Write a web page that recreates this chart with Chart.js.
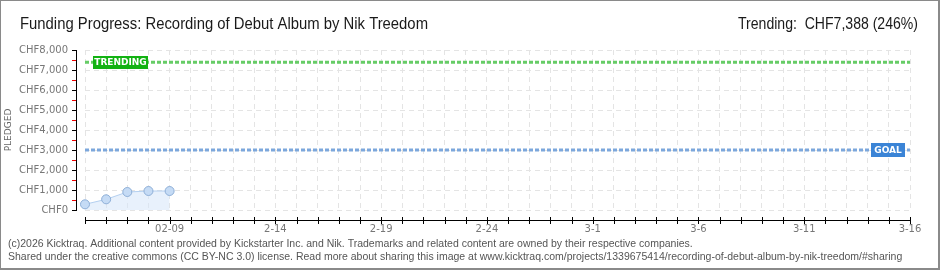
<!DOCTYPE html>
<html>
<head>
<meta charset="utf-8">
<script src="https://cdn.jsdelivr.net/npm/chart.js@4.4.1/dist/chart.umd.min.js"></script>
<style>
  html, body { margin: 0; padding: 0; background: #fff; }
  #wrap { width: 940px; height: 270px; position: relative; }
</style>
</head>
<body>
<div id="wrap"><canvas id="fundingChart" width="940" height="270"></canvas></div>
<script>
// days on the x axis (2-05 .. 3-16)
const days = [
  "2-05", "2-06", "2-07", "2-08", "02-09", "2-10", "2-11", "2-12", "2-13", "2-14",
  "2-15", "2-16", "2-17", "2-18", "2-19", "2-20", "2-21", "2-22", "2-23", "2-24",
  "2-25", "2-26", "2-27", "2-28", "3-1", "3-2", "3-3", "3-4", "3-5", "3-6",
  "3-7", "3-8", "3-9", "3-10", "3-11", "3-12", "3-13", "3-14", "3-15", "3-16"
];
const shownTicks = ["02-09", "2-14", "2-19", "2-24", "3-1", "3-6", "3-11", "3-16"];
const pledged = [285, 535, 900, 950, 950];
const trending = 7388;
const goal = 3000;
const yMax = 8000;

const chartTitle = "Funding Progress: Recording of Debut Album by Nik Treedom";
const trendingText = "Trending:  CHF7,388 (246%)";
const footer = [
  "(c)2026 Kicktraq. Additional content provided by Kickstarter Inc. and Nik. Trademarks and related content are owned by their respective companies.",
  "Shared under the creative commons (CC BY-NC 3.0) license. Read more about sharing this image at www.kicktraq.com/projects/1339675414/recording-of-debut-album-by-nik-treedom/#sharing"
];

const first = days[0];
const last = days[days.length - 1];

// narrow headline font is not installed, so squeeze a normal one to the same width
function squeezed(ctx, text, x, y, width, align) {
  const w = ctx.measureText(text).width;
  const k = Math.min(1, width / w);
  ctx.save();
  ctx.translate(align === "right" ? x - width : x, y);
  ctx.scale(k, 1);
  ctx.textAlign = "left";
  ctx.fillText(text, 0, 0);
  ctx.restore();
}

// draws frame, texts, the detached axes and the TRENDING / GOAL tags
const decor = {
  id: "decor",
  beforeDraw(chart) {
    const ctx = chart.ctx;
    ctx.save();
    ctx.fillStyle = "#fff";
    ctx.fillRect(0, 0, chart.width, chart.height);
    ctx.restore();
  },
  afterDatasetsDraw(chart) {
    const ctx = chart.ctx;
    const x = chart.scales.x;
    const y = chart.scales.y;
    const area = chart.chartArea;
    ctx.save();

    // y axis line + ticks
    const ax = area.left - 9;
    const yTop = Math.round(y.getPixelForValue(yMax));
    const yBot = Math.round(y.getPixelForValue(0));
    ctx.fillStyle = "#000";
    ctx.fillRect(ax, yTop, 1, yBot - yTop + 1);
    for (let v = 0; v <= yMax; v += 500) {
      const py = Math.round(y.getPixelForValue(v));
      ctx.fillStyle = v % 1000 === 0 ? "#000" : "#e00";
      ctx.fillRect(ax - 4, py, 4, 1);
    }

    // x axis line + ticks
    const ay = area.bottom + 10;
    const x0 = Math.round(x.getPixelForValue(0));
    const x1 = Math.round(x.getPixelForValue(days.length - 1));
    ctx.fillStyle = "#000";
    ctx.fillRect(x0, ay, x1 - x0 + 1, 1);
    days.forEach((d, i) => {
      ctx.fillRect(Math.round(x.getPixelForValue(i)), ay - 3, 1, 7);
    });

    // tags
    ctx.font = "bold 9px 'DejaVu Sans'";
    ctx.textBaseline = "middle";
    ctx.textAlign = "center";
    const ty = Math.round(y.getPixelForValue(trending));
    ctx.fillStyle = "#12b212";
    ctx.fillRect(area.left + 8, ty - 6, 55, 13);
    ctx.fillStyle = "#fff";
    ctx.fillText("TRENDING", area.left + 35.5, ty + 1);

    const gy = Math.round(y.getPixelForValue(goal));
    ctx.fillStyle = "#3b84d6";
    ctx.fillRect(area.right - 39, gy - 7, 34, 14);
    ctx.fillStyle = "#fff";
    ctx.fillText("GOAL", area.right - 22, gy + 1);

    // titles
    ctx.textBaseline = "alphabetic";
    ctx.fillStyle = "#1a1a1a";
    ctx.font = "16px 'Liberation Sans'";
    squeezed(ctx, chartTitle, 20, 29, 408, "left");
    squeezed(ctx, trendingText, 918, 29, 180, "right");

    // footer
    ctx.fillStyle = "#555";
    ctx.font = "10.5px 'Liberation Sans'";
    ctx.textAlign = "left";
    ctx.fillText(footer[0], 8, 247);
    ctx.fillText(footer[1], 8, 260);

    // frame
    ctx.fillStyle = "#8a8a8a";
    ctx.fillRect(0, 0, chart.width, 1);
    ctx.fillRect(0, 0, 1, chart.height);
    ctx.fillRect(chart.width - 2, 0, 2, chart.height);
    ctx.fillRect(0, chart.height - 2, chart.width, 2);
    ctx.restore();
  }
};

const ctx = document.getElementById("fundingChart");
new Chart(ctx, {
  type: "line",
  data: {
    labels: days,
    datasets: [
      {
        label: "Pledged",
        data: pledged,
        borderColor: "#b4d0f0",
        borderWidth: 1,
        backgroundColor: "rgba(214,230,249,0.55)",
        fill: "origin",
        tension: 0,
        pointRadius: 4.5,
        pointBackgroundColor: "#c5dbf5",
        pointBorderColor: "#8fb0d8",
        pointBorderWidth: 1,
        order: 1
      },
      {
        label: "Trending",
        data: [{ x: first, y: trending }, { x: last, y: trending }],
        borderColor: "#66cc66",
        borderWidth: 3,
        borderDash: [4, 2],
        pointRadius: 0,
        fill: false,
        order: 2
      },
      {
        label: "Goal",
        data: [{ x: first, y: goal }, { x: last, y: goal }],
        borderColor: "#7ca7dc",
        borderWidth: 3,
        borderDash: [4, 2],
        pointRadius: 0,
        fill: false,
        order: 2
      }
    ]
  },
  options: {
    responsive: false,
    animation: false,
    layout: { padding: { left: 0, right: 30, top: 50, bottom: 35 } },
    plugins: {
      legend: { display: false },
      tooltip: { enabled: false }
    },
    scales: {
      x: {
        offset: false,
        afterFit: (scale) => { scale.height = 25; },
        grid: { color: "#e4e4e4", drawTicks: false },
        border: { display: false, dash: [5, 4] },
        ticks: {
          autoSkip: false,
          maxRotation: 0,
          padding: 13,
          color: "#777",
          font: { family: "DejaVu Sans", size: 10 },
          callback: (v, i) => (shownTicks.includes(days[i]) ? days[i] : "")
        }
      },
      y: {
        min: 0,
        max: yMax,
        afterFit: (scale) => { scale.width = 85; },
        grid: {
          drawTicks: false,
          color: (c) => (c.tick && c.tick.value % 1000 === 0 ? "#e4e4e4" : "rgba(0,0,0,0)")
        },
        border: { display: false, dash: [5, 4] },
        title: {
          display: true,
          text: "PLEDGED",
          color: "#666",
          padding: { top: 3, bottom: 0 },
          font: { family: "DejaVu Sans", size: 9 }
        },
        ticks: {
          stepSize: 500,
          padding: 17,
          color: "#777",
          font: { family: "DejaVu Sans", size: 10 },
          callback: (v) => (v % 1000 === 0 ? "CHF" + v.toLocaleString("en-US") : "")
        }
      }
    }
  },
  plugins: [decor]
});
</script>
</body>
</html>
